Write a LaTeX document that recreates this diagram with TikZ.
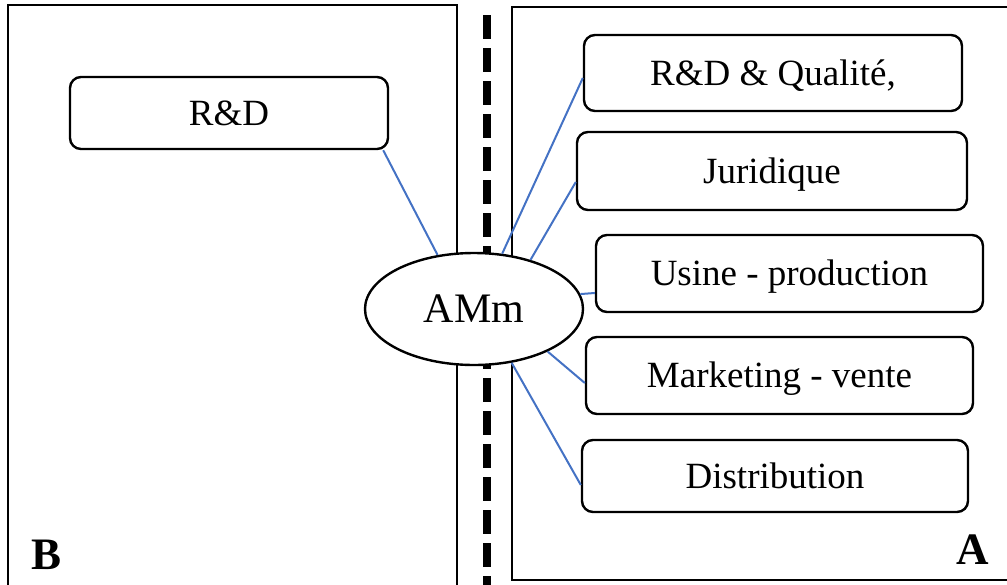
\documentclass[tikz,border=0pt]{standalone}
\usepackage{fontspec}
\setmainfont{Liberation Serif}
\usetikzlibrary{shapes.geometric}
\definecolor{linkblue}{HTML}{4472C4}
\begin{document}
\begin{tikzpicture}[x=1pt,y=-1pt,
  panel/.style={draw=black,line width=2.3pt},
  divider/.style={draw=black,line width=8pt,dash pattern=on 24pt off 9pt},
  box/.style={draw=black,line width=2.4pt,rounded corners=11pt,fill=white,inner sep=0pt,
    font=\fontsize{37}{44}\selectfont,text height=32.5pt,text depth=8pt},
  hub/.style={ellipse,draw=black,line width=2.4pt,fill=white,inner sep=0pt,
    minimum width=218pt,minimum height=112pt,
    font=\fontsize{42}{50}\selectfont,text height=36.8pt,text depth=9pt},
  tag/.style={font=\fontsize{45}{54}\selectfont\bfseries,inner sep=0pt},
  link/.style={draw=linkblue,line width=2pt}]
\useasboundingbox (0,0) rectangle (1007,584);
% panels
\draw[panel] (8,590) -- (8,5) -- (457,5) -- (457,590);
\draw[panel] (1015,7) -- (512,7) -- (512,580) -- (1015,580);
% divider
\coordinate (dtop) at (487,15);
\coordinate (dbot) at (487,590);
\draw[divider] (dtop) -- (dbot);
% hub
\node[hub] (amm) at (474,309) {AMm};
% boxes
\node[box,minimum width=318pt,minimum height=72pt] (rd) at (229,113) {R\&D};
\node[box,minimum width=378pt,minimum height=76pt] (q) at (773,73) {R\&D \& Qualité,};
\node[box,minimum width=390pt,minimum height=78pt] (jur) at (772,171) {Juridique};
\node[box,minimum width=387pt,minimum height=77pt] (usi) at (789.5,273.5) {Usine - production};
\node[box,minimum width=387pt,minimum height=77pt] (mkt) at (779.5,375.5) {Marketing - vente};
\node[box,minimum width=386pt,minimum height=72pt] (dis) at (775,476) {Distribution};
% labels
\node[tag,anchor=base west] (lb) at (31,569) {B};
\node[tag,anchor=base east] (la) at (989,564) {A};
% connectors
\draw[link] ([xshift=-6pt]rd.south east) -- (amm.124);
\draw[link] ([yshift=-5pt]q.west) -- (amm.63);
\draw[link] ([yshift=-11pt]jur.west) -- (amm.41);
\draw[link] ([yshift=-19.5pt]usi.west) -- (amm.8.4);
\draw[link] ([yshift=-7.5pt]mkt.west) -- (amm.-30);
\draw[link] ([yshift=-9pt]dis.west) -- (amm.-55);
\end{tikzpicture}
\end{document}
